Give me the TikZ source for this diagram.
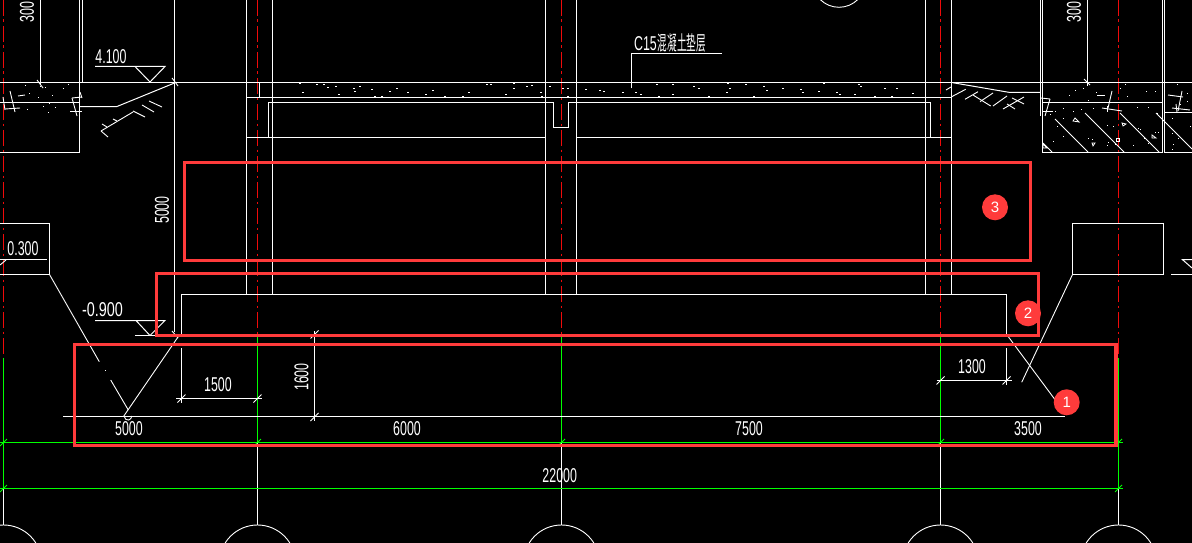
\documentclass[tikz,border=0pt]{standalone}
\usepackage{graphicx}
\usepackage{fontspec}
\setmainfont{Liberation Sans}
\newfontfamily\cjkfont{Noto Sans CJK SC}[Scale=1]
\definecolor{axred}{RGB}{240,10,10}
\definecolor{mark}{RGB}{255,59,59}
\definecolor{grn}{RGB}{0,255,0}
\newcommand{\cadt}[1]{\scalebox{0.62}[1]{\fontsize{20}{20}\selectfont #1}}
\newcommand{\cadw}[1]{\scalebox{0.72}[1]{\fontsize{20}{20}\selectfont #1}}
\newcommand{\cadc}[1]{\scalebox{0.48}[1]{\fontsize{20}{20}\selectfont\cjkfont #1}}
\tikzset{
  wl/.style={draw=white,line width=1pt},
  thinl/.style={draw=white,line width=0.9pt},
  gl/.style={draw=grn,line width=1pt},
  axl/.style={draw=axred,line width=1pt,dash pattern=on 16pt off 3.5pt on 2.5pt off 4pt},
  markbox/.style={draw=mark,line width=3.2pt},
  badge/.style={circle,fill=mark,minimum size=26pt,inner sep=0pt,text=white,font=\fontsize{15}{15}\selectfont},
  dim/.style={text=white,inner sep=0pt,anchor=center},
}
\begin{document}
\begin{tikzpicture}[x=1pt,y=-1pt]
\useasboundingbox (0,0) rectangle (1192,543);
\fill[black] (0,0) rectangle (1192,543);
\clip (0,0) rectangle (1192,543);
% axes
\foreach \x/\r/\g in {3.5/358/488,257.5/337/443,561.5/337/443,940.5/337/443,1118.5/358/488}{
  \draw[axl] (\x,0) -- (\x,\r);
  \draw[gl] (\x,\r) -- (\x,\g);
  \draw[thinl] (\x,\g) -- (\x,525);
}
% grid bubbles
\foreach \x in {3.5,257.5,561.5,940.5,1118.5} \draw[thinl] (\x,563) circle[radius=38];
\draw[thinl] (839,-19.3) circle[radius=26.6];
% ground and slab
\draw[wl] (0,82.5) -- (1192,82.5);
\draw[wl] (247,97.5) -- (951.5,97.5);
\draw[wl] (259.5,82.5) -- (259.5,97.5);
\draw[wl] (268.5,137.5) -- (268.5,102.5) -- (553.5,102.5) -- (553.5,127.5) -- (568.5,127.5) -- (568.5,102.5) -- (930.5,102.5) -- (930.5,137.5);
\draw[wl] (247,137.5) -- (545.5,137.5);
\draw[wl] (576.5,137.5) -- (951.5,137.5);
% columns
\foreach \x in {246.5,272.5,545.5,576.5,925.5,951.5} \draw[wl] (\x,0) -- (\x,294.5);
% left top
\draw[wl] (40.5,0) -- (40.5,85);
\draw[wl] (79.5,82) -- (79.5,152.5) -- (0,152.5);
\draw[wl] (82.5,0) -- (82.5,82);
\draw[wl] (79.5,0) -- (79.5,82);
\draw[wl] (0,102.5) -- (79.5,102.5);
\draw[wl] (174.5,0) -- (174.5,332);
\draw[wl] (95,66.5) -- (165,66.5) -- (150,82) -- (135,66.5);
% left earth
\draw[wl] (80,106.5) -- (117,106.5) -- (174.5,83);
\draw[thinl] (172,78) -- (178,86);
\draw[thinl] (37,80) -- (43,88);
\draw[thinl] (101,131) -- (133,112);
\foreach \a/\b/\c/\d in {101/131/108/137,102/124/107/127,113/119/117/121,133/111/145/117,142/105/154/112,149/101/162/107}
  \draw[thinl] (\a,\b) -- (\c,\d);
\foreach \a/\b/\c/\d in {10/91/15/112,3/97/5/110,18/96/25/95,5/109/20/108,72/98/82/97,72/98/77/116,70/111/82/111,80/92/82/98}
  \draw[thinl] (\a,\b) -- (\c,\d);
% right earth
\draw[wl] (952.7,82.7) -- (1010,92.5) -- (1040,92.5);
\foreach \a/\b/\c/\d in {951.7/96.7/965.7/89.3,965/99.3/978/91.7,973/95/990.7/106,980/101.7/993/93,993/106/1007/96,1003/109/1024/97,1012/98/1024/104,1007/104/1015/109,946/90/951/87}
  \draw[thinl] (\a,\b) -- (\c,\d);
% right top
\draw[wl] (1040.5,0) -- (1040.5,116);
\draw[wl] (1042.5,0) -- (1042.5,152.5) -- (1162.5,152.5) -- (1162.5,0);
\draw[wl] (1042.5,102.5) -- (1162.5,102.5);
\draw[wl] (1087.5,0) -- (1087.5,86);
\draw[wl] (1164.5,0) -- (1164.5,152.5) -- (1192,152.5);
\draw[wl] (1164.5,112.5) -- (1192,112.5);
\foreach \a/\b/\c/\d in {1055/119/1088/152,1085/113/1124/152,1120/113/1159/152,1043/143/1052/152,1156/113/1192/149}
  \draw[thinl] (\a,\b) -- (\c,\d);
\foreach \a/\b/\c/\d in {1097/95/1105/95,1112/91/1108/108,1102/108/1122/111,1107/106/1107/112,1041/98/1050/99,1050/99/1045/116,1042/111/1053/111,1084/79/1090/85,1168/95/1183/97,1182/91/1178/111,1172/108/1190/110,1176/104/1177/112}
  \draw[thinl] (\a,\b) -- (\c,\d);
\foreach \x/\y in {1075/90,1083/88,1096/92,1120/88,1125/84,1146/91,1155/91,1069/95,1088/100,1127/96,1055/111,1063/108,1073/111,1081/109,1093/108,1137/107,1148/107,1157/113,1050/114,1063/118,1057/126,1107/125,1113/126,1138/128,1140/129,1155/132,1158/132,1088/138,1092/139,1108/142,1107/145,1063/136,1053/141,1115/144,1133/145,1148/143,1144/138,1172/118,1177/84,1187/93,1187/101,1180/104,1172/133,1178/138,1173/144,1172/149,1190/126}
  \fill[white] (\x,\y) rectangle (\x+1,\y+1);
\foreach \p in {{(1073,121)--(1079,122)--(1075,118)--cycle},{(1122,123)--(1126,124)--(1123,126)--cycle},{(1152,135)--(1156,138)--(1152,138)--cycle},{(1092,143)--(1095,143)--(1093,146)--cycle},{(1116,138)--(1119,138)--(1119,141)--(1116,141)--cycle},{(1043,144)--(1047,148)--(1043,148)--cycle}}
  \draw[draw=white,line width=.8pt] \p;
% stipple
\foreach \x/\y in {
299/83,316/84,323/84,327/87,335/86,359/86,353/88,354/91,338/94,302/92,371/89,374/96,381/96,389/91,396/88,407/92,425/94,432/90,444/96,462/96,468/92,486/84,
490/84,513/83,513/88,526/86,531/85,505/94,540/92,541/96,549/86,562/88,567/88,567/96,585/89,599/90,603/91,622/92,635/92,640/94,656/84,672/84,658/96,672/94,693/86,698/88,727/83,729/88,726/92,708/96,745/84,763/86,766/90,782/88,753/96,
800/89,802/92,818/91,823/83,836/92,839/94,854/94,858/84,860/86,884/88,874/96,891/96,896/88,912/93}
  \fill[white] (\x,\y) rectangle (\x+2,\y+1);
\foreach \x/\y in {25/85,40/86,45/87,63/88,68/84,29/93,38/97,52/95,43/106,55/107,49/103,27/109,48/112}
  \fill[white] (\x,\y) rectangle (\x+1,\y+1);
% leader
\draw[wl] (631.5,88.5) -- (631.5,53.5) -- (722,53.5);
% left elevation box
\draw[wl] (0,223.5) -- (49.5,223.5) -- (49.5,274.5) -- (0,274.5);
\draw[wl] (0,259.5) -- (47,259.5);
\draw[thinl] (0,265) -- (6,260);
\draw[thinl] (49.5,274.5) -- (99.3,361.7);
\fill[white] (105,370) rectangle (106,371);
\draw[thinl] (110.7,380) -- (128.3,410);
\draw[thinl] (178,337) -- (123.5,416.5);
\draw[thinl] (124,416) arc[start angle=190,end angle=350,x radius=4,y radius=-5];
\draw[thinl] (172,331) -- (178,338);
% -0.900
\draw[wl] (95,320.5) -- (165,320.5) -- (150,335.5) -- (136,320.5);
\draw[wl] (135,335.5) -- (175,335.5);
% footing
\draw[wl] (181.5,337) -- (181.5,294.5) -- (1006.5,294.5) -- (1006.5,337);
\draw[thinl] (181.5,348) -- (181.5,403);
\draw[thinl] (1006.5,348) -- (1006.5,385);
% dims
\draw[wl] (176,398.5) -- (262,398.5);
\draw[wl] (936.7,380.5) -- (1011.7,380.5);
\draw[wl] (314.5,331) -- (314.5,421);
\draw[wl] (63,416.5) -- (1065,416.5);
\foreach \x/\y in {181.5/398.5,257.5/398.5,940.5/380.5,1006.5/380.5,314.5/334.5,314.5/417}
  \draw[thinl] (\x-4,\y+4) -- (\x+4,\y-4);
% right box
\draw[wl] (1072.5,223.5) rectangle (1163.5,274.5);
\draw[wl] (1171,274.5) -- (1192,274.5);
\draw[wl] (1192,259.5) -- (1182.3,259.5) -- (1192,268);
\draw[thinl] (1072.5,274.5) -- (1021.7,382.3);
\draw[thinl] (1008.3,336.7) -- (1056,401);
% green dims
\draw[gl] (0,442.5) -- (1122.7,442.5);
\draw[gl] (0,488.5) -- (1122.7,488.5);
\foreach \x in {3.5,257.5,561.5,940.5,1118.5}{
  \draw[draw=grn,line width=.8pt] (\x-3.5,446) -- (\x+3.5,439);
}
\foreach \x in {3.5,1118.5}{
  \draw[draw=grn,line width=.8pt] (\x-3.5,492) -- (\x+3.5,485);
}
% texts
\node[dim] (t410) at (111,57) {\cadt{4.100}};
\node[dim] (tc15) at (670,43) {\cadt{C15}\hspace{1pt}\cadc{混凝土垫层}};
\node[dim,rotate=90] (t300a) at (27,12) {\cadt{300}};
\node[dim,rotate=90] (t300b) at (1074,12) {\cadt{300}};
\node[dim,rotate=90] (t5000) at (162,210) {\cadt{5000}};
\node[dim] (t030) at (23,249) {\cadt{0.300}};
\node[dim] (t090) at (102.5,310) {\cadw{-0.900}};
\node[dim] (t1500) at (218,385) {\cadt{1500}};
\node[dim,rotate=90] (t1600) at (301.5,377) {\cadt{1600}};
\node[dim] (t1300) at (972,367) {\cadt{1300}};
\node[dim] (t5k) at (129,429) {\cadt{5000}};
\node[dim] (t6k) at (407,429) {\cadt{6000}};
\node[dim] (t75) at (749,429) {\cadt{7500}};
\node[dim] (t35) at (1028,429) {\cadt{3500}};
\node[dim] (t22) at (559.7,476) {\cadt{22000}};
% red marks
\draw[markbox] (74.7,344.7) rectangle (1116,445.3);
\draw[markbox] (156.7,273.3) rectangle (1038.3,335.3);
\draw[markbox] (184.7,162.3) rectangle (1030.7,260.3);
\node[badge] (b1) at (1066.7,402.3) {1};
\node[badge] (b2) at (1028,313.3) {2};
\node[badge] (b3) at (995,207.3) {3};
\end{tikzpicture}
\end{document}
